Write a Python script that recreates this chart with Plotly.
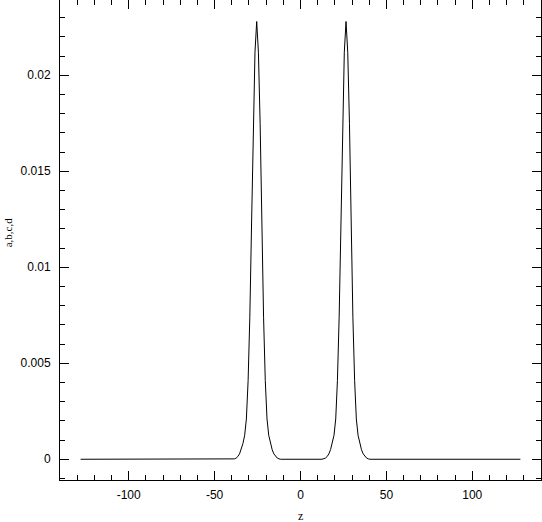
import plotly.graph_objects as go

# Curve samples (z, value)
z_left = [-39.5, -38.5, -37.5, -36.5, -35.5, -34.5, -33.5, -32.5, -31.5, -30.5,
          -29.5, -28.5, -27.5, -26.5, -25.5, -24.5, -23.5, -22.5, -21.5, -20.5,
          -19.5, -18.5, -17.5, -16.5, -15.5, -14.5, -13.5, -12.5, -11.5]
a_left = [0.0, 0.00002, 0.00006, 0.00014, 0.00028, 0.0005, 0.00082, 0.00125, 0.0021, 0.0041,
          0.0074, 0.0122, 0.0175, 0.0212, 0.0228, 0.0212, 0.0175, 0.0122, 0.0074, 0.0041,
          0.0021, 0.00125, 0.00082, 0.0005, 0.00028, 0.00014, 0.00006, 0.00002, 0.0]
z_right = [12.5, 13.5, 14.5, 15.5, 16.5, 17.5, 18.5, 19.5, 20.5, 21.5,
           22.5, 23.5, 24.5, 25.5, 26.5, 27.5, 28.5, 29.5, 30.5, 31.5,
           32.5, 33.5, 34.5, 35.5, 36.5, 37.5, 38.5, 39.5, 40.5]
a_right = [0.0, 0.00002, 0.00006, 0.00014, 0.00028, 0.0005, 0.00082, 0.00125, 0.0021, 0.0041,
           0.0074, 0.0122, 0.0175, 0.0212, 0.0228, 0.0212, 0.0175, 0.0122, 0.0074, 0.0041,
           0.0021, 0.00125, 0.00082, 0.0005, 0.00028, 0.00014, 0.00006, 0.00002, 0.0]
z_ends = [-128, 128]

x_tickvals = [-100, -50, 0, 50, 100]
x_ticktext = ["-100", "-50", "0", "50", "100"]
y_tickvals = [0, 0.005, 0.01, 0.015, 0.02]
y_ticktext = ["0", "0.005", "0.01", "0.015", "0.02"]

z_all = [z_ends[0]] + z_left + z_right + [z_ends[1]]
a_all = [0.0] + a_left + a_right + [0.0]

fig = go.Figure()
fig.add_trace(go.Scatter(x=z_all, y=a_all, mode="lines",
                         line=dict(color="black", width=1), showlegend=False))

tickfont = dict(family="Liberation Sans, Arial, sans-serif", size=12, color="black")
fig.update_xaxes(range=[-140, 140], showline=True, linecolor="black", linewidth=1,
                 mirror="ticks", ticks="inside", ticklen=9, tickcolor="black", tickwidth=1,
                 tickvals=x_tickvals, ticktext=x_ticktext, tickfont=tickfont,
                 ticklabelstandoff=4, automargin=False,
                 showgrid=False, zeroline=False,
                 minor=dict(dtick=10, tick0=0, ticks="inside", ticklen=5,
                            tickcolor="black", tickwidth=1, showgrid=False))
fig.update_yaxes(range=[-0.00108, 0.02392], showline=True, linecolor="black", linewidth=1,
                 mirror="ticks", ticks="inside", ticklen=9, tickcolor="black", tickwidth=1,
                 tickvals=y_tickvals, ticktext=y_ticktext, tickfont=tickfont,
                 ticklabelstandoff=6, automargin=False,
                 showgrid=False, zeroline=False,
                 minor=dict(dtick=0.001, tick0=0, ticks="inside", ticklen=5,
                            tickcolor="black", tickwidth=1, showgrid=False))

fig.update_layout(
    width=542, height=522,
    margin=dict(l=60, r=1, t=0, b=42, autoexpand=False),
    paper_bgcolor="white", plot_bgcolor="white",
    hovermode=False,
    annotations=[
        dict(text="z", xref="paper", yref="paper", x=0.5, y=-0.075,
             xanchor="center", yanchor="middle", showarrow=False,
             font=dict(family="Liberation Serif, Times New Roman, serif", size=12, color="black")),
        dict(text="a,b,c,d", xref="paper", yref="paper", x=-0.109, y=0.515,
             xanchor="center", yanchor="middle", showarrow=False, textangle=-90,
             font=dict(family="Liberation Serif, Times New Roman, serif", size=11, color="black")),
    ],
)

fig.write_html("out.html",
               config={"displayModeBar": False, "staticPlot": True},
               post_script="document.body.style.margin='0';document.body.style.overflow='hidden';")
